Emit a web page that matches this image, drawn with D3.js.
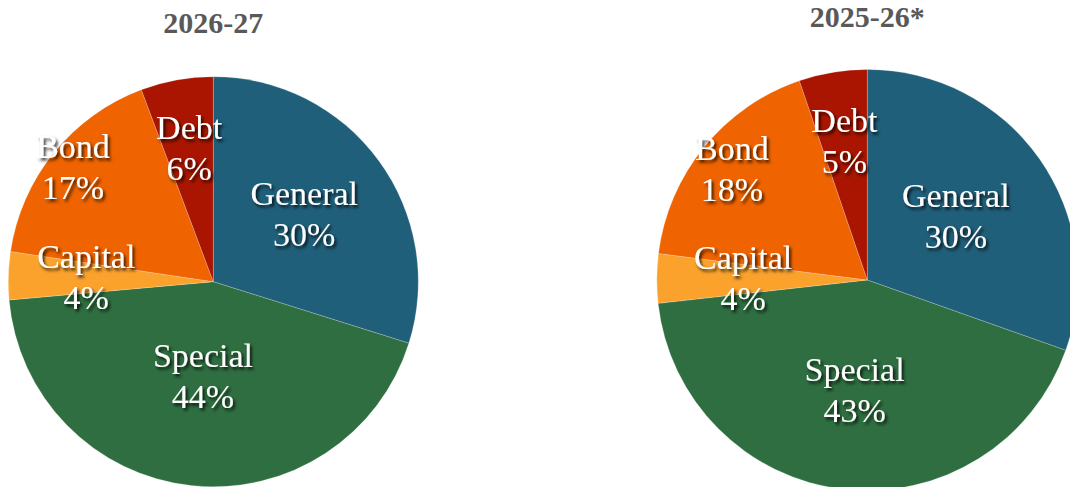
<!DOCTYPE html>
<html>
<head>
<meta charset="utf-8">
<script src="https://cdn.jsdelivr.net/npm/d3@7"></script>
<style>
  html, body { margin: 0; padding: 0; background: #ffffff; }
  svg { display: block; }
</style>
</head>
<body>
<svg id="chart" width="1070" height="487"></svg>
<script>
// ---- Data ----
const categories = ["General", "Special", "Capital", "Bond", "Debt"];
const values2026_27 = [29.85, 43.73, 3.77, 16.94, 5.71];
const values2025_26 = [30.42, 42.81, 3.78, 17.76, 5.23];
const titles = ["2026-27", "2025-26*"];

// ---- Layout / style (kept separate from data) ----
const colors = ["#1F5F7A", "#2E6E40", "#FBA22D", "#EF6300", "#A91500"];
const pies = [
  { title: titles[0], values: values2026_27, cx: 213.3, cy: 281.7, r: 205, titleY: 33,
    labelFrac: [0.55, 0.47, 0.62, 0.88, 0.66] },
  { title: titles[1], values: values2025_26, cx: 867.3, cy: 280, r: 210.5, titleY: 27,
    labelFrac: [0.515, 0.53, 0.59, 0.83, 0.665] }
];

const svg = d3.select("#chart");
const defs = svg.append("defs");
const f = defs.append("filter").attr("id", "shadow")
  .attr("x", "-20%").attr("y", "-20%").attr("width", "140%").attr("height", "140%");
f.append("feDropShadow").attr("dx", 2).attr("dy", 2.5).attr("stdDeviation", 1.5)
  .attr("flood-color", "#000").attr("flood-opacity", 0.8);

const color = d3.scaleOrdinal().domain(categories).range(colors);
const pieGen = d3.pie().sort(null).value(d => d.value).startAngle(0).endAngle(2 * Math.PI);

pies.forEach(p => {
  const data = categories.map((c, i) => ({ cat: c, value: p.values[i], frac: p.labelFrac[i] }));
  const total = d3.sum(data, d => d.value);
  const arcs = pieGen(data);
  const arc = d3.arc().innerRadius(0).outerRadius(p.r);

  const g = svg.append("g").attr("transform", `translate(${p.cx},${p.cy})`);
  g.selectAll("path.slice").data(arcs).join("path")
    .attr("class", "slice")
    .attr("d", arc)
    .attr("fill", d => color(d.data.cat))
    .attr("stroke", "#ffffff")
    .attr("stroke-opacity", 0.35)
    .attr("stroke-width", 0.6);

  const lbl = g.selectAll("g.lbl").data(arcs).join("g")
    .attr("class", "lbl")
    .attr("filter", "url(#shadow)")
    .attr("transform", d => {
      const a = (d.startAngle + d.endAngle) / 2;
      const rr = p.r * d.data.frac;
      return `translate(${rr * Math.sin(a)},${-rr * Math.cos(a)})`;
    });
  lbl.append("text")
    .attr("text-anchor", "middle")
    .attr("y", -10)
    .attr("font-family", "'Liberation Serif', 'Times New Roman', serif")
    .attr("font-size", 34)
    .attr("fill", "#ffffff")
    .text(d => d.data.cat);
  lbl.append("text")
    .attr("text-anchor", "middle")
    .attr("y", 31)
    .attr("font-family", "'Liberation Serif', 'Times New Roman', serif")
    .attr("font-size", 34)
    .attr("fill", "#ffffff")
    .text(d => Math.round(d.data.value / total * 100) + "%");

  svg.append("text")
    .attr("x", p.cx)
    .attr("y", p.titleY)
    .attr("text-anchor", "middle")
    .attr("font-family", "'Liberation Serif', 'Times New Roman', serif")
    .attr("font-weight", "bold")
    .attr("font-size", 30)
    .attr("fill", "#595959")
    .text(p.title);
});
</script>
</body>
</html>
